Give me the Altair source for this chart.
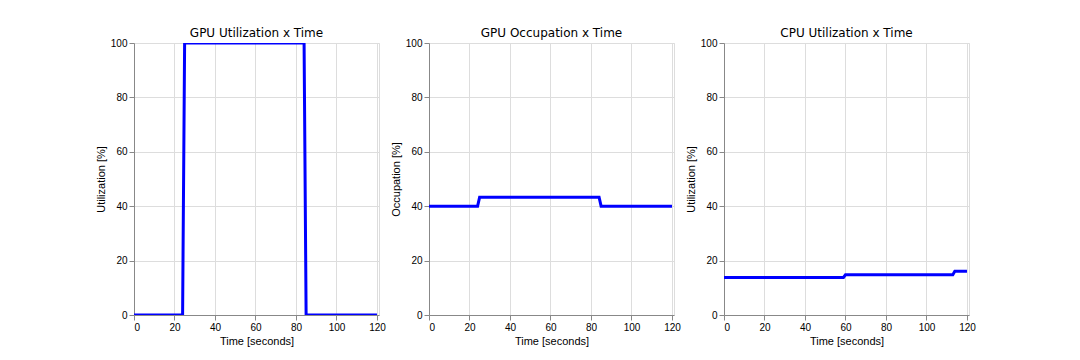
import altair as alt
import pandas as pd

# Breakpoints of each series (time in seconds, value in %)
gpu_util_t = [0, 24, 25, 84, 85, 120]
gpu_util_v = [0, 0, 100, 100, 0, 0]

gpu_occ_t = [0, 24, 25, 84, 85, 120]
gpu_occ_v = [40, 40, 43.3, 43.3, 40, 40]

cpu_util_t = [0, 59, 60, 113, 114, 120]
cpu_util_v = [13.8, 13.8, 14.8, 14.8, 16.1, 16.1]

titles = ["GPU Utilization x Time", "GPU Occupation x Time", "CPU Utilization x Time"]
ylabels = ["Utilization [%]", "Occupation [%]", "Utilization [%]"]
x_ticks = [0, 20, 40, 60, 80, 100, 120]
y_ticks = [0, 20, 40, 60, 80, 100]

FONT = "DejaVu Sans"
W, H = 245, 272


def panel(ts, vs, title, ylabel):
    df = pd.DataFrame({"t": ts, "v": vs})
    line = alt.Chart(df).mark_line(
        color="#0000ff", strokeWidth=3, clip=True
    ).encode(
        x=alt.X("t:Q", scale=alt.Scale(domain=[0, 121], nice=False, zero=False),
                axis=alt.Axis(title="Time [seconds]", values=x_ticks, format="d",
                              titleFontWeight="normal", titlePadding=3)),
        y=alt.Y("v:Q", scale=alt.Scale(domain=[0, 100], nice=False),
                axis=alt.Axis(title=ylabel, values=y_ticks, format="d",
                              titleFontWeight="normal", titlePadding=4)),
    )
    ttl = alt.Chart(pd.DataFrame({"title": [title]})).mark_text(
        font=FONT, fontSize=12, color="black", baseline="alphabetic", align="center"
    ).encode(text="title:N", x=alt.value(W / 2), y=alt.value(-6))
    return alt.layer(line, ttl).properties(width=W, height=H)


charts = [panel(t, v, ti, yl) for t, v, ti, yl in zip(
    [gpu_util_t, gpu_occ_t, cpu_util_t],
    [gpu_util_v, gpu_occ_v, cpu_util_v],
    titles, ylabels)]

chart = alt.hconcat(*charts, spacing=50, bounds="flush").properties(
    padding={"left": 86, "top": 18, "right": 5, "bottom": 5}
).configure_view(
    stroke="black", strokeWidth=1
).configure_axis(
    labelFont=FONT, titleFont=FONT, labelFontSize=10, titleFontSize=10,
    labelColor="black", titleColor="black",
    domainColor="black", tickColor="black", tickSize=3.5, tickWidth=0.8,
    labelPadding=3.5, grid=True, gridColor="#a0a0a0", gridWidth=1,
    domainWidth=1,
).configure(
    background="white"
)

chart.save("out.html", embed_options={"renderer": "svg", "actions": False})
